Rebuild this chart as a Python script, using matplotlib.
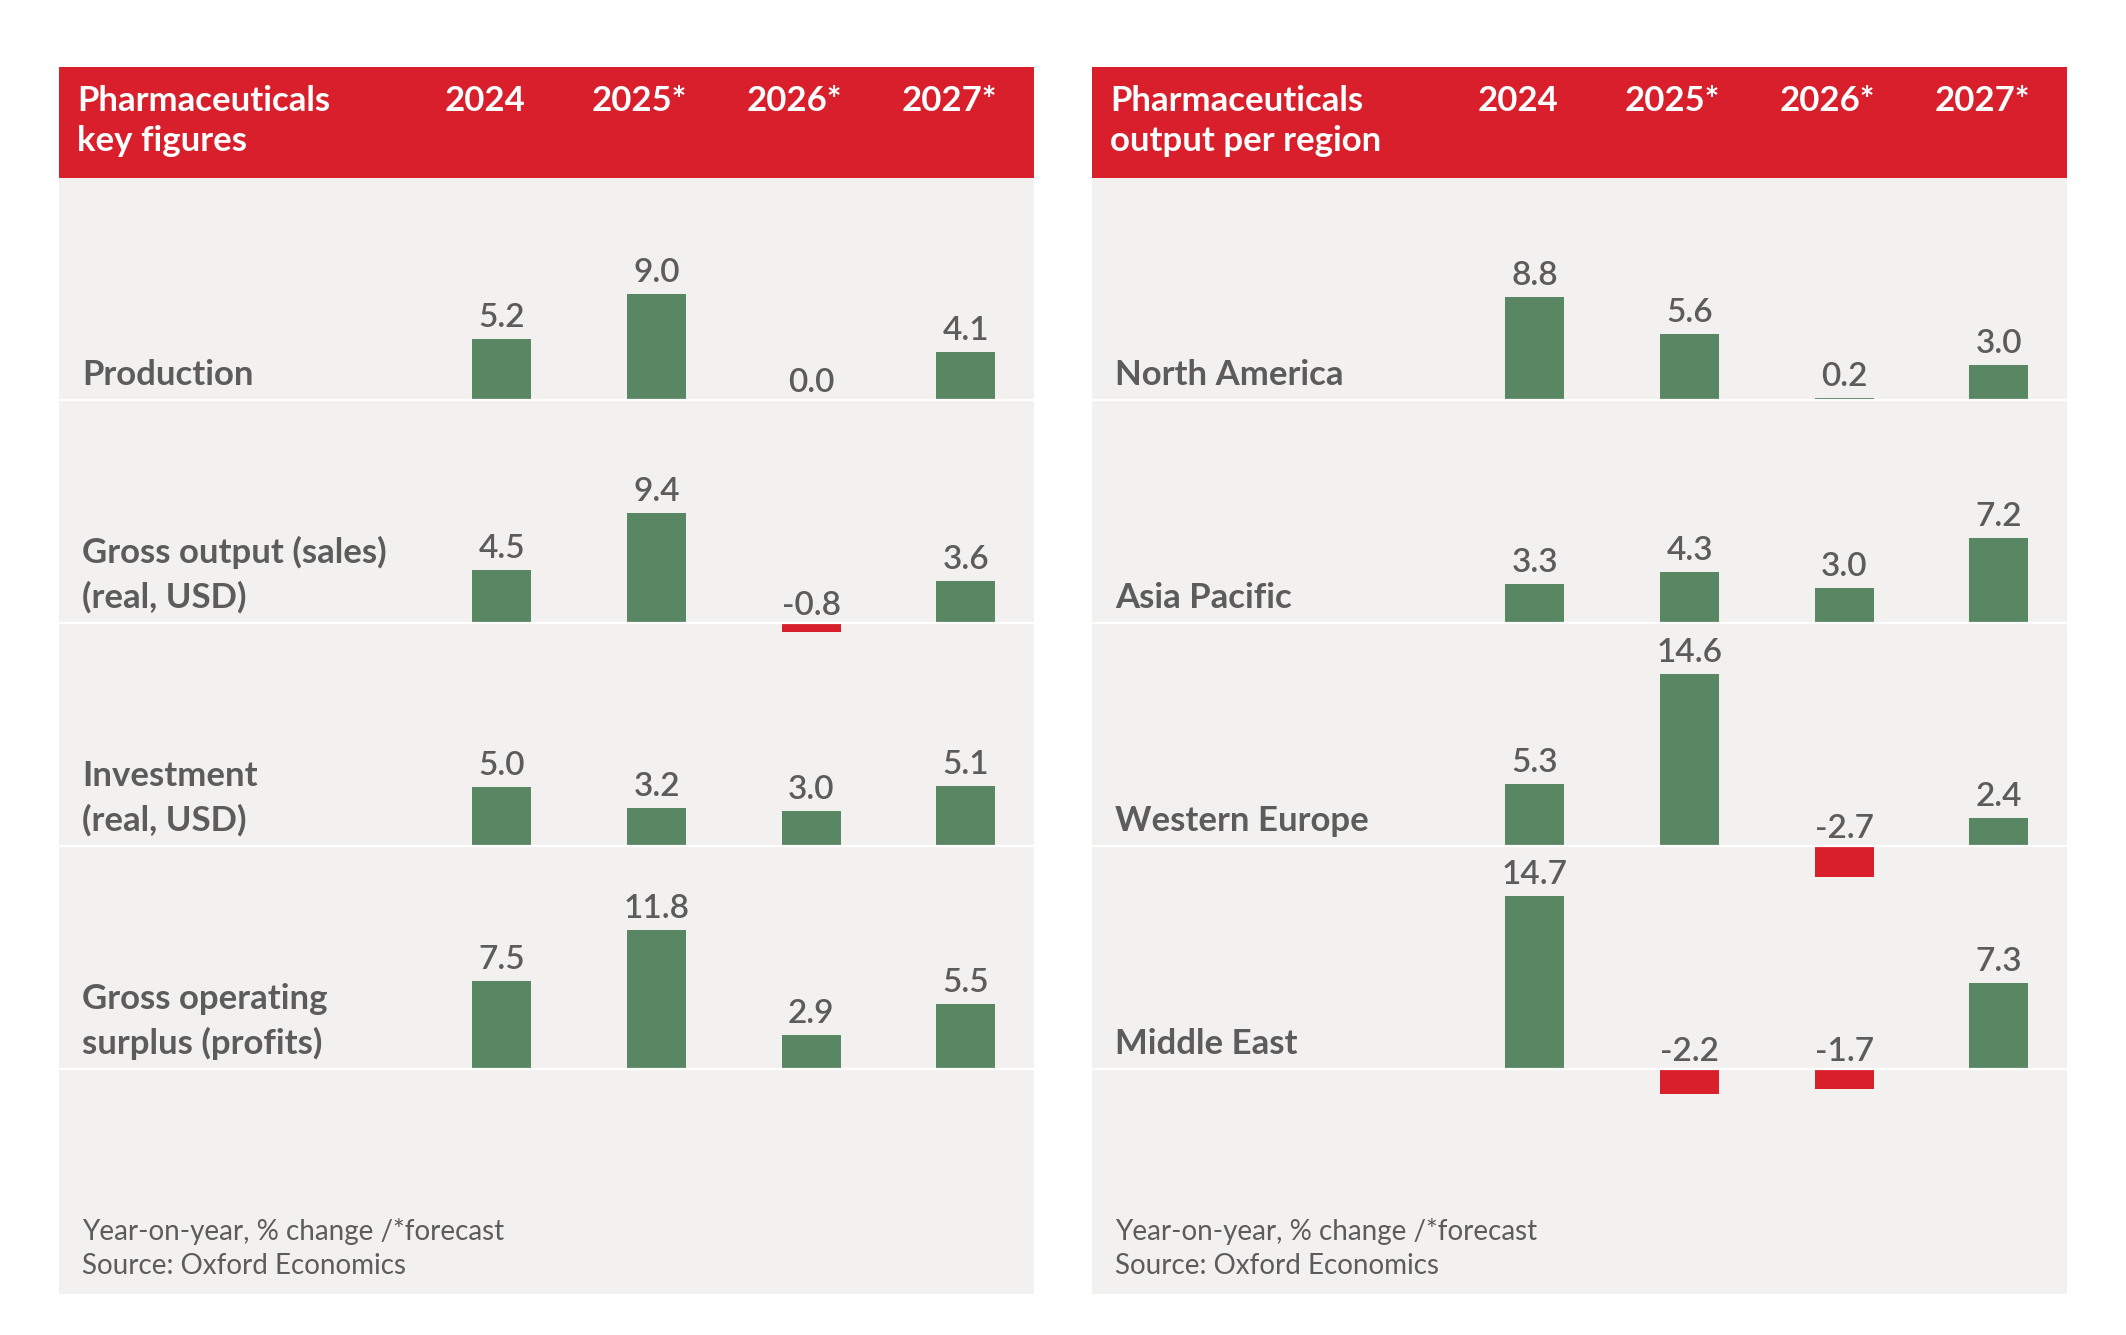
import matplotlib
matplotlib.use('Agg')
import matplotlib.pyplot as plt

plt.rcParams['font.family'] = ['Lato', 'DejaVu Sans']

# data
years = ['2024', '2025*', '2026*', '2027*']

key_titles = ['Pharmaceuticals', 'key figures']
key_rows = ['Production', 'Gross output (sales)\n(real, USD)',
            'Investment\n(real, USD)', 'Gross operating\nsurplus (profits)']
production = [5.2, 9.0, 0.0, 4.1]
gross_output = [4.5, 9.4, -0.8, 3.6]
investment = [5.0, 3.2, 3.0, 5.1]
gross_surplus = [7.5, 11.8, 2.9, 5.5]

region_titles = ['Pharmaceuticals', 'output per region']
regions = ['North America', 'Asia Pacific', 'Western Europe', 'Middle East']
north_america = [8.8, 5.6, 0.2, 3.0]
asia_pacific = [3.3, 4.3, 3.0, 7.2]
western_europe = [5.3, 14.6, -2.7, 2.4]
middle_east = [14.7, -2.2, -1.7, 7.3]

notes = ['Year-on-year, % change /*forecast', 'Source: Oxford Economics']

RED = '#D91F2B'
GREEN = '#5A8763'
BG = '#F2F1EF'
TXT = '#5C5C5C'

W, H, DPI = 2126, 1335, 100
PPU = 11.73          # pixels per percentage point
PX = 72 / DPI        # one pixel in points
ROW = 19.0           # row height in value units

fig = plt.figure(figsize=(W / DPI, H / DPI), dpi=DPI)
fig.patch.set_facecolor('white')


def panel(left, titles, rows, series):
    ax = fig.add_axes([left / W, 1 - 1294 / H, 975 / W, 1227 / H])
    ax.set_xlim(-2.864, 3.44)
    ax.set_ylim(-(1294 - 400) / PPU, (400 - 67) / PPU)
    ax.set_facecolor(BG)
    for s in ax.spines.values():
        s.set_visible(False)
    ax.set_xticks([])
    ax.set_yticks([])

    # red header
    ax.axhspan((400 - 178) / PPU, (400 - 67) / PPU, color=RED, lw=0, zorder=1)
    ax.text(-2.747, (400 - 111) / PPU, titles[0], color='white', fontsize=25,
            fontweight='bold', va='baseline', ha='left', zorder=4)
    ax.text(-2.747, (400 - 151) / PPU, titles[1], color='white', fontsize=25,
            fontweight='bold', va='baseline', ha='left', zorder=4)
    for i, y in enumerate(years):
        ax.text(i - 0.11, (400 - 111) / PPU, y, color='white', fontsize=25,
                fontweight='bold', va='baseline', ha='center', zorder=4)

    xs = list(range(len(years)))
    for r, (name, vals) in enumerate(zip(rows, series)):
        base = -r * ROW
        cols = [GREEN if v >= 0 else RED for v in vals]
        ax.bar(xs, vals, width=0.381, bottom=base, color=cols, lw=0, zorder=2)
        ax.axhline(base, color='white', lw=1.6, zorder=3)
        for x, v in zip(xs, vals):
            gap = 12 if v > 0 else 8
            ax.annotate(f'{v:.1f}', (x, base + max(v, 0)), xytext=(0, gap * PX),
                        textcoords='offset points', ha='center', va='baseline',
                        fontsize=24, fontweight='semibold', color=TXT, zorder=4)
        lines = name.split('\n')
        for k, line in enumerate(reversed(lines)):
            ax.annotate(line, (-2.715, base), xytext=(0, (15 + 45 * k) * PX),
                        textcoords='offset points', ha='left', va='baseline',
                        fontsize=25, fontweight='bold', color=TXT, zorder=4)

    ax.text(-2.715, -(1240 - 400) / PPU, notes[0], fontsize=20, color=TXT,
            va='baseline', ha='left')
    ax.text(-2.715, -(1274 - 400) / PPU, notes[1], fontsize=20, color=TXT,
            va='baseline', ha='left')
    return ax


panel(59, key_titles, key_rows,
      [production, gross_output, investment, gross_surplus])
panel(1092, region_titles, regions,
      [north_america, asia_pacific, western_europe, middle_east])

fig.savefig('out.png', dpi=DPI, facecolor='white')
